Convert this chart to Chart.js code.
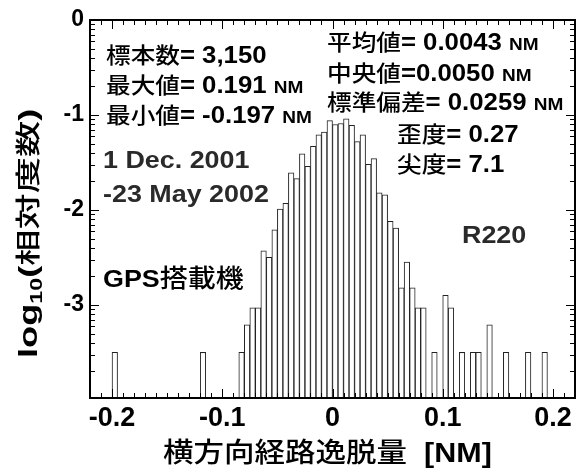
<!DOCTYPE html>
<html>
<head>
<meta charset="utf-8">
<script src="https://cdn.jsdelivr.net/npm/chart.js@4"></script>
<style>
  body { margin: 0; background: #fff; }
</style>
</head>
<body>
<canvas id="chart" width="585" height="474"></canvas>
<script>
// bin centres (bin width 0.005 NM), only the non-empty bins
const binCenters = [
    -0.1975, -0.1175, -0.0825, -0.0775, -0.0725, -0.0675, -0.0625, -0.0575,
    -0.0525, -0.0475, -0.0425, -0.0375, -0.0325, -0.0275, -0.0225, -0.0175,
    -0.0125, -0.0075, -0.0025, 0.0025, 0.0075, 0.0125, 0.0175, 0.0225,
    0.0275, 0.0325, 0.0375, 0.0425, 0.0475, 0.0525, 0.0575, 0.0625,
    0.0675, 0.0725, 0.0775, 0.0825, 0.0925, 0.1025, 0.1075, 0.1175,
    0.1275, 0.1325, 0.1425, 0.1575, 0.1775, 0.1925,
];
// log10 of relative frequency
const logFreq = [
    -3.50, -3.50, -3.50, -3.21, -3.03, -3.03, -2.43, -2.50,
    -2.21, -1.99, -1.93, -1.61, -1.67, -1.41, -1.54, -1.33,
    -1.21, -1.18, -1.06, -1.10, -1.09, -1.04, -1.11, -1.28,
    -1.21, -1.52, -1.46, -1.82, -1.84, -2.12, -2.19, -2.82,
    -2.55, -2.82, -3.03, -3.03, -3.50, -2.90, -3.03, -3.50,
    -3.50, -3.50, -3.21, -3.50, -3.50, -3.50,
];
const xTicks = [-0.2, -0.1, 0, 0.1, 0.2];
const yTicks = [-3, -2, -1, 0];

const X_MIN = -0.22, X_MAX = 0.22;
const Y_MIN = -3.98, Y_MAX = 0;

const B = (n) => `bold ${n}px "Liberation Sans", Arial, sans-serif`;
const K = (n) => `500 ${n}px "Noto Sans CJK JP", sans-serif`;

// draw a line made of several runs (different fonts) one after another
function rich(ctx, x, y, runs, sx, color) {
    ctx.save();
    ctx.translate(x, y);
    ctx.scale(sx || 1, 1);
    ctx.fillStyle = color || "#000";
    ctx.textBaseline = "alphabetic";
    ctx.textAlign = "left";
    let cx = 0;
    for (const [t, f, dy] of runs) {
        ctx.font = f;
        ctx.fillText(t, cx, dy || 0);
        cx += ctx.measureText(t).width;
    }
    ctx.restore();
}

const framePlugin = {
    id: "frame",
    afterDatasetsDraw(chart) {
        const { ctx, chartArea: a, scales } = chart;
        const x = scales.x, y = scales.y;
        ctx.save();
        ctx.strokeStyle = "#000";
        ctx.lineWidth = 1;
        ctx.beginPath();
        // y ticks, log style minor ticks, both sides, pointing inward
        for (let d = 0; d >= -4; d--) {
            const marks = [[d, 9]];
            for (let k = 2; k <= 9; k++) marks.push([d - 1 + Math.log10(k), 5]);
            for (const [v, len] of marks) {
                if (v < Y_MIN || v > Y_MAX) continue;
                const py = Math.round(y.getPixelForValue(v)) + 0.5;
                ctx.moveTo(a.left, py); ctx.lineTo(a.left + len, py);
                ctx.moveTo(a.right, py); ctx.lineTo(a.right - len, py);
            }
        }
        // x ticks every 0.01, bottom and top
        for (let i = -22; i <= 22; i++) {
            const len = i % 10 === 0 ? 9 : 5;
            const px = Math.round(x.getPixelForValue(i / 100)) + 0.5;
            ctx.moveTo(px, a.bottom); ctx.lineTo(px, a.bottom - len);
            ctx.moveTo(px, a.top); ctx.lineTo(px, a.top + len);
        }
        ctx.stroke();
        ctx.lineWidth = 2;
        ctx.strokeRect(a.left, a.top, a.right - a.left, a.bottom - a.top);
        ctx.restore();
    },
    afterDraw(chart) {
        const ctx = chart.ctx;
        const s = 1.12;
        // statistics
        rich(ctx, 106, 63, [["標本数", K(22)], ["= 3,150", B(23)]], s);
        rich(ctx, 106, 93, [["最大値", K(22)], ["= 0.191 ", B(23)], ["NM", B(17)]], s);
        rich(ctx, 106, 123, [["最小値", K(22)], ["= -0.197 ", B(23)], ["NM", B(17)]], s);
        rich(ctx, 327, 50, [["平均値", K(22)], ["= 0.0043 ", B(23)], ["NM", B(17)]], s);
        rich(ctx, 327, 81, [["中央値", K(22)], ["=0.0050 ", B(23)], ["NM", B(17)]], s);
        rich(ctx, 327, 110, [["標準偏差", K(22)], ["= 0.0259 ", B(23)], ["NM", B(17)]], s);
        rich(ctx, 397, 142, [["歪度", K(22)], ["= 0.27", B(23)]], s);
        rich(ctx, 397, 172, [["尖度", K(22)], ["= 7.1", B(23)]], s);
        rich(ctx, 103, 168, [["1 Dec. 2001", B(24)]], s, "#2a2a2a");
        rich(ctx, 103, 202, [["-23 May 2002", B(24)]], s, "#2a2a2a");
        rich(ctx, 462, 243, [["R220", B(24)]], s, "#2a2a2a");
        rich(ctx, 103, 287, [["GPS", B(24)], ["搭載機", K(25)]], s);

        // x axis title
        rich(ctx, 163, 462, [["横方向経路逸脱量", K(27)], ["  [NM]", B(27)]], 1.13);

        // y axis title, rotated, with subscript 10
        ctx.save();
        ctx.translate(37, 358);
        ctx.rotate(-Math.PI / 2);
        ctx.scale(1.45, 1);
        ctx.fillStyle = "#000";
        let cx = 0;
        for (const [t, f, dy] of [["log", B(25)], ["10", B(16), 5], ["(", B(25)], ["相対度数", K(25)], [")", B(25)]]) {
            ctx.font = f;
            ctx.fillText(t, cx, dy || 0);
            cx += ctx.measureText(t).width;
        }
        ctx.restore();
    },
};

const ctx = document.getElementById("chart").getContext("2d");

new Chart(ctx, {
    type: "bar",
    data: {
        datasets: [
            {
                data: binCenters.map((x, i) => ({ x: x, y: logFreq[i] })),
                backgroundColor: "#fff",
                borderColor: "#222",
                borderWidth: 1,
                base: Y_MIN,
                barPercentage: 1,
                categoryPercentage: 1,
            },
        ],
    },
    options: {
        responsive: false,
        animation: false,
        layout: { padding: { top: 20, right: 10, left: 0, bottom: 0 } },
        plugins: {
            legend: { display: false },
            tooltip: { enabled: false },
        },
        scales: {
            x: {
                type: "linear",
                min: X_MIN,
                max: X_MAX,
                offset: false,
                grid: { display: false, drawTicks: false, offset: false },
                border: { display: false },
                afterBuildTicks: (s) => { s.ticks = xTicks.map((v) => ({ value: v })); },
                afterFit: (s) => { s.height = 76; },
                ticks: {
                    autoSkip: false,
                    maxRotation: 0,
                    padding: 4,
                    color: "#000",
                    font: { family: "Liberation Sans", size: 27, weight: "bold" },
                    callback: (v) => (v === 0 ? "0" : v.toFixed(1)),
                },
            },
            y: {
                min: Y_MIN,
                max: Y_MAX,
                grid: { display: false, drawTicks: false },
                border: { display: false },
                afterBuildTicks: (s) => { s.ticks = yTicks.map((v) => ({ value: v })); },
                afterFit: (s) => { s.width = 90; },
                ticks: {
                    padding: 6,
                    color: "#000",
                    font: { family: "Liberation Sans", size: 23, weight: "bold" },
                    callback: (v) => String(v),
                },
            },
        },
    },
    plugins: [framePlugin],
});
</script>
</body>
</html>
